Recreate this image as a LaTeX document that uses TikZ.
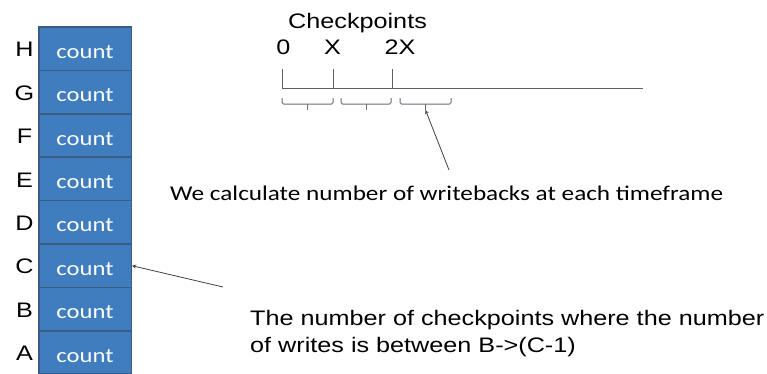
\documentclass[tikz,border=0pt]{standalone}
\usepackage{fontspec}
\usepackage{graphicx}
\setmainfont{Liberation Sans}
\newfontfamily\calib{Carlito}
\definecolor{boxblue}{RGB}{64,125,191}
\definecolor{boxedge}{RGB}{58,92,132}
\definecolor{rulegray}{RGB}{95,95,95}
\definecolor{brgray}{RGB}{100,110,125}
\newcommand\wide[1]{\scalebox{1.2}[1]{#1}}
\begin{document}
\begin{tikzpicture}[x=1pt,y=-1pt,every node/.style={inner sep=0pt,font=\fontsize{21}{27}\selectfont},
  cnt/.style={draw=boxedge,line width=1.5pt,fill=boxblue,text=white,minimum width=92.5pt,minimum height=43.4pt,
    text height=19pt,text depth=0pt,font=\fontsize{20.5}{24}\selectfont\calib},
  tickline/.style={draw=rulegray,line width=1pt},
  bracket/.style={draw=brgray,line width=1pt},
  arr/.style={draw=black!75,line width=0.8pt},>=stealth]
\useasboundingbox (0,0) rectangle (767,373);
% counter stack
\foreach \l [count=\i] in {H,G,F,E,D,C,B,A} {
  \node[cnt] (c\l) at (85,{5.3+43.4*\i}) {\wide{count}};
  \node (l\l) at (24.5,{6.3+43.4*\i}) {\wide{\l}};
}
% checkpoint line
\node[anchor=base west] (ckpt) at (288,28) {\wide{Checkpoints}};
\node[anchor=base] (n0) at (283.5,54) {\wide{0}};
\node[anchor=base] (n1) at (332.5,54) {\wide{X}};
\node[anchor=base] (n2) at (400,54) {\wide{2X}};
\coordinate (t0) at (282,88); \coordinate (t1) at (333,88); \coordinate (t2) at (392,88);
\coordinate (tend) at (643,88);
\draw[tickline] (t0) -- (tend);
\foreach \t in {t0,t1,t2} \draw[tickline] (\t) -- ++(0,-19);
\foreach \a/\b [count=\k] in {282/333,341/391,400/451} {
  \draw[bracket,rounded corners=1.5pt] (\a,98) -- (\a,104) -- (\b,104) -- (\b,98);
  \draw[bracket] ({(\a+\b)/2},104) -- ({(\a+\b)/2},110) coordinate (br\k);
}
% notes
\node[anchor=base west,font=\fontsize{21}{27}\selectfont\calib] (wecalc) at (170,200) {\wide{We calculate number of writebacks at each timeframe}};
\coordinate (wtail) at (449,170);
\draw[arr,->] (wtail) -- (br3);
\node[anchor=base west] (note) at (250,325) {\wide{\begin{tabular}[t]{@{}l@{}}The number of checkpoints where the number\\ of writes is between B->(C-1)\end{tabular}}};
\coordinate (ctail) at (223,287);
\draw[arr,->] (ctail) -- (cC.east);
\end{tikzpicture}
\end{document}
